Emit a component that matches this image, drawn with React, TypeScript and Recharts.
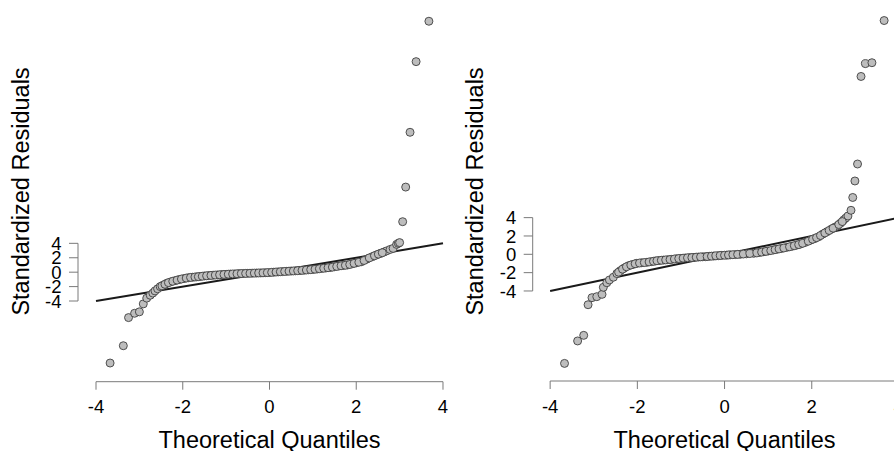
import React from "react";
import {
  Label,
  ReferenceLine,
  Scatter,
  ScatterChart,
  XAxis,
  YAxis,
} from "recharts";

// theoretical quantiles / standardized residuals
const leftQ = [
  -3.675, -3.37, -3.25, -3.11, -3.0, -2.91, -2.83, -2.75, -2.69, -2.64, -2.58,
  -2.52, -2.45, -2.37, -2.28, -2.18, -2.08, -1.97, -1.87, -1.77, -1.68, -1.6,
  -1.5, -1.4, -1.3, -1.2, -1.1, -1.0, -0.9, -0.8, -0.7, -0.6, -0.5, -0.4, -0.3,
  -0.2, -0.1, 0.0, 0.1, 0.2, 0.3, 0.4, 0.5, 0.6, 0.7, 0.8, 0.9, 1.0, 1.1, 1.2,
  1.3, 1.4, 1.5, 1.6, 1.7, 1.8, 1.9, 2.0, 2.12, 2.24, 2.37, 2.47, 2.56, 2.64,
  2.7, 2.78, 2.85, 2.93, 2.97, 3.0, 3.07, 3.14, 3.24, 3.38, 3.675,
];
const leftR = [
  -12.6, -10.2, -6.3, -5.7, -5.5, -4.4, -3.6, -3.2, -2.9, -2.6, -2.3, -2.0,
  -1.8, -1.55, -1.35, -1.18, -1.02, -0.88, -0.77, -0.7, -0.65, -0.6, -0.52,
  -0.47, -0.42, -0.38, -0.33, -0.3, -0.26, -0.24, -0.2, -0.18, -0.16, -0.14,
  -0.12, -0.1, -0.08, -0.05, 0.0, 0.04, 0.08, 0.12, 0.16, 0.19, 0.23, 0.28,
  0.33, 0.38, 0.44, 0.52, 0.58, 0.65, 0.75, 0.85, 0.93, 1.0, 1.15, 1.3, 1.45,
  1.8, 2.15, 2.4, 2.6, 2.8, 2.95, 3.15, 3.3, 3.85, 4.0, 4.1, 7.0, 11.8, 19.4,
  29.2, 34.8,
];
// the crowded middle band
const leftBandQ = [
  -2.48, -2.41, -2.33, -2.23, -2.13, -2.03, -1.92, -1.82, -1.72, -1.64, -1.55,
  -1.45, -1.35, -1.25, -1.15, -1.05, -0.95, -0.85, -0.75, -0.65, -0.55, -0.45,
  -0.35, -0.25, -0.15, -0.05, 0.05, 0.15, 0.25, 0.35, 0.45, 0.55, 0.65, 0.75,
  0.85, 0.95, 1.05, 1.15, 1.25, 1.35, 1.45, 1.55, 1.65, 1.75, 1.85, 1.95, 2.06,
  2.18, 2.3, 2.42, 2.51, 2.6,
];
const leftBandR = [
  -1.9, -1.68, -1.45, -1.26, -1.1, -0.95, -0.82, -0.73, -0.67, -0.62, -0.56,
  -0.5, -0.45, -0.4, -0.36, -0.32, -0.28, -0.25, -0.22, -0.19, -0.17, -0.15,
  -0.13, -0.11, -0.09, -0.06, -0.02, 0.02, 0.06, 0.1, 0.14, 0.17, 0.21, 0.25,
  0.3, 0.35, 0.41, 0.48, 0.55, 0.62, 0.7, 0.8, 0.89, 0.96, 1.07, 1.22, 1.38,
  1.62, 1.98, 2.28, 2.5, 2.7,
];

const rightQ = [
  -3.67, -3.37, -3.23, -3.13, -3.04, -2.93, -2.81, -2.78, -2.7, -2.64, -2.55,
  -2.47, -2.39, -2.3, -2.2, -2.1, -2.01, -1.9, -1.78, -1.68, -1.59, -1.5, -1.4,
  -1.3, -1.21, -1.1, -1.0, -0.9, -0.8, -0.7, -0.6, -0.5, -0.44, -0.35, -0.25,
  -0.14, -0.06, 0.05, 0.13, 0.25, 0.36, 0.5, 0.67, 0.8, 0.9, 1.0, 1.12, 1.2,
  1.3, 1.43, 1.55, 1.65, 1.74, 1.85, 1.98, 2.07, 2.16, 2.25, 2.35, 2.45, 2.53,
  2.59, 2.66, 2.73, 2.78, 2.83, 2.9, 2.94, 2.99, 3.05, 3.13, 3.23, 3.38, 3.66,
];
const rightR = [
  -11.9, -9.45, -8.84, -5.5, -4.73, -4.62, -4.37, -3.6, -3.1, -2.8, -2.5, -2.1,
  -1.79, -1.5, -1.24, -1.1, -0.98, -0.92, -0.87, -0.8, -0.73, -0.68, -0.63,
  -0.59, -0.55, -0.48, -0.44, -0.4, -0.36, -0.33, -0.3, -0.27, -0.26, -0.22,
  -0.19, -0.15, -0.11, -0.09, -0.06, -0.03, 0.0, 0.05, 0.11, 0.2, 0.28, 0.36,
  0.47, 0.55, 0.63, 0.76, 0.88, 1.0, 1.12, 1.3, 1.56, 1.72, 1.92, 2.2, 2.47,
  2.75, 2.95, 3.09, 3.4, 3.74, 3.95, 4.18, 4.8, 6.2, 8.0, 9.85, 19.4, 20.8,
  20.9, 25.5,
];
const rightBandQ = [
  -2.43, -2.34, -2.25, -2.15, -2.05, -1.95, -1.84, -1.73, -1.63, -1.55, -1.45,
  -1.35, -1.25, -1.15, -1.05, -0.95, -0.85, -0.75, -0.65, -0.55, -0.4, -0.3,
  -0.2, -0.1, 0.0, 0.09, 0.19, 0.3, 0.43, 0.58, 0.74, 0.85, 0.95, 1.06, 1.16,
  1.25, 1.36, 1.49, 1.6, 1.7, 1.79, 1.92, 2.02, 2.11, 2.2, 2.3, 2.4, 2.49,
  2.62, 2.7,
];
const rightBandR = [
  -1.95, -1.62, -1.36, -1.17, -1.03, -0.95, -0.9, -0.83, -0.76, -0.7, -0.65,
  -0.61, -0.57, -0.51, -0.46, -0.42, -0.38, -0.35, -0.31, -0.28, -0.24, -0.2,
  -0.17, -0.13, -0.1, -0.07, -0.04, -0.01, 0.03, 0.08, 0.15, 0.24, 0.32, 0.41,
  0.51, 0.59, 0.69, 0.82, 0.94, 1.06, 1.2, 1.43, 1.64, 1.82, 2.05, 2.33, 2.6,
  2.85, 3.25, 3.57,
];

const xTicks = [-4, -2, 0, 2, 4];
const yTicks = [-4, -2, 0, 2, 4];
const diagonal = [-4, 4];

const FONT = '"Liberation Sans", Arial, Helvetica, sans-serif';
const AXIS_GREY = "#7a7a7a";

const Dot = (props: any) => (
  <circle
    cx={props.cx}
    cy={props.cy}
    r={4}
    fill="#bdbdbd"
    stroke="#404040"
    strokeWidth={0.9}
  />
);

interface PanelProps {
  q: number[];
  r: number[];
  xDomain: [number, number];
  yDomain: [number, number];
  yAxisWidth: number;
  xAxisHeight: number;
  rightMargin: number;
}

const QQPanel: React.FC<PanelProps> = ({
  q,
  r,
  xDomain,
  yDomain,
  yAxisWidth,
  xAxisHeight,
  rightMargin,
}) => {
  const data = q.map((v, i) => ({ q: v, r: r[i] }));
  return (
    <ScatterChart
      width={470}
      height={451}
      margin={{ top: 10, right: rightMargin, bottom: 0, left: 0 }}
      style={{ fontFamily: FONT }}
    >
      <XAxis
        type="number"
        dataKey="q"
        domain={xDomain}
        ticks={xTicks}
        interval={0}
        allowDataOverflow
        height={xAxisHeight}
        axisLine={false}
        tickSize={8}
        tickMargin={10.5}
        tickLine={{ stroke: AXIS_GREY }}
        tick={{ fill: "#000", fontSize: 18.5, fontFamily: FONT }}
      >
        <Label
          content={(p: any) => {
            const vb = p.viewBox || {};
            return (
              <text
                x={(vb.x ?? 78) + (vb.width ?? 383) / 2}
                y={447.5}
                textAnchor="middle"
                fontSize={23.5}
                fontFamily={FONT}
                fill="#000"
              >
                Theoretical Quantiles
              </text>
            );
          }}
        />
      </XAxis>
      <YAxis
        type="number"
        dataKey="r"
        domain={yDomain}
        ticks={yTicks}
        interval={0}
        allowDataOverflow
        width={yAxisWidth}
        axisLine={false}
        tickSize={9}
        tickMargin={7.5}
        tickLine={{ stroke: AXIS_GREY }}
        tick={{ fill: "#000", fontSize: 18.5, fontFamily: FONT }}
      >
        <Label
          content={() => (
            <text
              x={21}
              y={191.5}
              transform="rotate(-90 21 191.5)"
              textAnchor="middle"
              dominantBaseline="central"
              fontSize={23.5}
              fontFamily={FONT}
              fill="#000"
            >
              Standardized Residuals
            </text>
          )}
        />
      </YAxis>
      {/* axis lines only span the tick range, R style */}
      <ReferenceLine
        segment={[
          { x: xTicks[0], y: yDomain[0] },
          { x: xTicks[xTicks.length - 1], y: yDomain[0] },
        ]}
        stroke={AXIS_GREY}
        strokeWidth={1}
        ifOverflow="visible"
      />
      <ReferenceLine
        segment={[
          { x: xDomain[0], y: yTicks[0] },
          { x: xDomain[0], y: yTicks[yTicks.length - 1] },
        ]}
        stroke={AXIS_GREY}
        strokeWidth={1}
        ifOverflow="visible"
      />
      <ReferenceLine
        segment={[
          { x: diagonal[0], y: diagonal[0] },
          { x: diagonal[1], y: diagonal[1] },
        ]}
        stroke="#1a1a1a"
        strokeWidth={2}
        ifOverflow="visible"
      />
      <Scatter data={data} shape={<Dot />} isAnimationActive={false} />
    </ScatterChart>
  );
};

export default function App() {
  return (
    <div
      style={{
        position: "absolute",
        left: 0,
        top: 0,
        width: 894,
        height: 451,
        overflow: "hidden",
        background: "#fff",
      }}
    >
      <div style={{ position: "absolute", left: 0, top: 0 }}>
        <QQPanel
          q={[...leftQ, ...leftBandQ]}
          r={[...leftR, ...leftBandR]}
          xDomain={[-4.415, 4.415]}
          yDomain={[-15.19, 36.36]}
          yAxisWidth={78}
          xAxisHeight={69.3}
          rightMargin={9}
        />
      </div>
      <div style={{ position: "absolute", left: 454, top: 0 }}>
        <QQPanel
          q={[...rightQ, ...rightBandQ]}
          r={[...rightR, ...rightBandR]}
          xDomain={[-4.4, 4.4]}
          yDomain={[-13.82, 26.65]}
          yAxisWidth={78.7}
          xAxisHeight={70}
          rightMargin={7.6}
        />
      </div>
    </div>
  );
}
